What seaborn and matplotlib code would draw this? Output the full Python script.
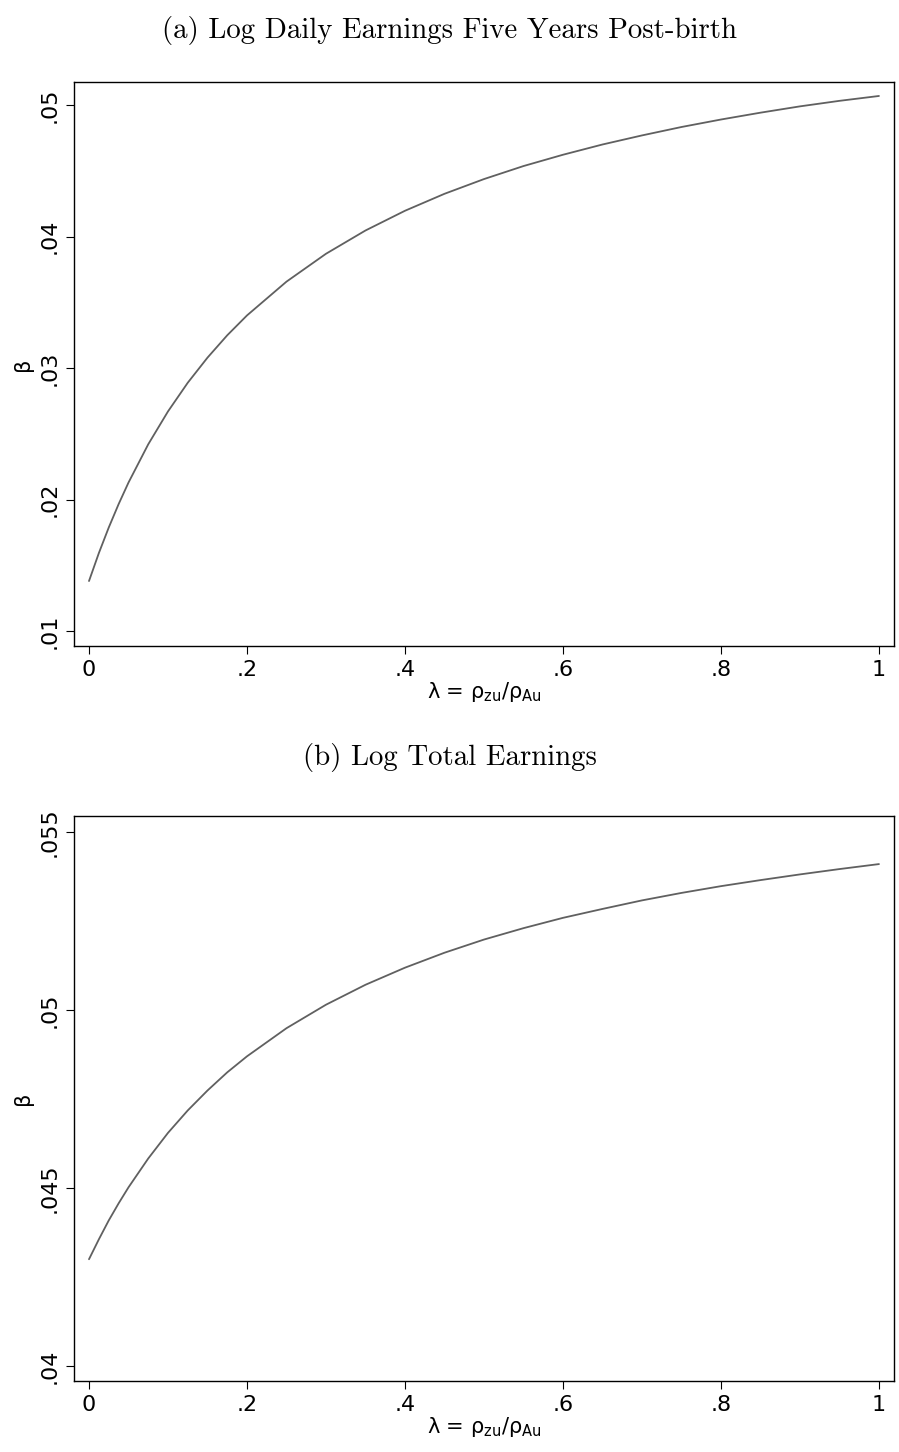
import numpy as np
import pandas as pd
import matplotlib
matplotlib.use("Agg")
import matplotlib.pyplot as plt
import seaborn as sns
from matplotlib.ticker import FuncFormatter

# values
lam = [0, 0.0125, 0.025, 0.0375, 0.05, 0.075, 0.1, 0.125, 0.15, 0.175, 0.2,
       0.25, 0.3, 0.35, 0.4, 0.45, 0.5, 0.55, 0.6, 0.65, 0.7, 0.75, 0.8,
       0.85, 0.9, 0.95, 1.0]
beta_daily = [0.01380, 0.01593, 0.01787, 0.01965, 0.02129, 0.02420, 0.02670,
              0.02888, 0.03079, 0.03249, 0.03400, 0.03657, 0.03869, 0.04046,
              0.04196, 0.04325, 0.04437, 0.04536, 0.04622, 0.04700, 0.04769,
              0.04833, 0.04890, 0.04942, 0.04990, 0.05032, 0.05069]
beta_total = [0.04300, 0.04356, 0.04409, 0.04457, 0.04502, 0.04583, 0.04655,
              0.04718, 0.04774, 0.04825, 0.04870, 0.04949, 0.05015, 0.05071,
              0.05119, 0.05161, 0.05198, 0.05230, 0.05259, 0.05284, 0.05308,
              0.05329, 0.05348, 0.05365, 0.05381, 0.05396, 0.05410]

titles = ["(a) Log Daily Earnings Five Years Post-birth", "(b) Log Total Earnings"]
xticks = [0, 0.2, 0.4, 0.6, 0.8, 1.0]
yticks_a = [0.01, 0.02, 0.03, 0.04, 0.05]
yticks_b = [0.04, 0.045, 0.05, 0.055]

sns.set_style("ticks")
plt.rcParams.update({
    "font.family": ["DejaVu Sans"],
    "mathtext.fontset": "dejavusans",
    "text.color": "black",
    "axes.labelcolor": "black",
    "xtick.color": "black",
    "ytick.color": "black",
    "axes.linewidth": 1.0,
    "axes.edgecolor": "black",
    "xtick.major.size": 6,
    "ytick.major.size": 6,
    "xtick.major.width": 0.8,
    "ytick.major.width": 0.8,
})

LINE_COLOR = "#606060"


def stata_fmt(v, pos):
    s = f"{v:g}"
    if s.startswith("0."):
        s = s[1:]
    return s


fig = plt.figure(figsize=(8.99, 14.52), dpi=100)
ax_a = fig.add_axes([0.0823, 0.5551, 0.9121, 0.3884])
ax_b = fig.add_axes([0.0823, 0.0489, 0.9121, 0.3891])

panels = [
    (ax_a, beta_daily, yticks_a, (0.00886, 0.05175), 0.979),
    (ax_b, beta_total, yticks_b, (0.03958, 0.05545), 0.4785),
]

for (ax, vals, yt, ylim, ty), title in zip(panels, titles):
    df = pd.DataFrame({"lam": lam, "beta": vals})
    sns.lineplot(data=df, x="lam", y="beta", ax=ax, color=LINE_COLOR, lw=1.3)
    ax.set_xlim(-0.019, 1.019)
    ax.set_ylim(*ylim)
    ax.set_xticks(xticks)
    ax.set_yticks(yt)
    ax.xaxis.set_major_formatter(FuncFormatter(stata_fmt))
    ax.yaxis.set_major_formatter(FuncFormatter(stata_fmt))
    ax.tick_params(axis="both", labelsize=16, pad=4)
    for lbl in ax.get_yticklabels():
        lbl.set_rotation(90)
        lbl.set_va("center")
    ax.set_xlabel(r"λ = ρ$_{\mathrm{zu}}$/ρ$_{\mathrm{Au}}$", fontsize=15, labelpad=0)
    ax.set_ylabel("β", fontsize=15, labelpad=5)
    for sp in ax.spines.values():
        sp.set_visible(True)
    fig.text(0.5, ty, title, ha="center", va="center", fontsize=20.8, family="cmr10")

fig.savefig("out.png", dpi=100)
